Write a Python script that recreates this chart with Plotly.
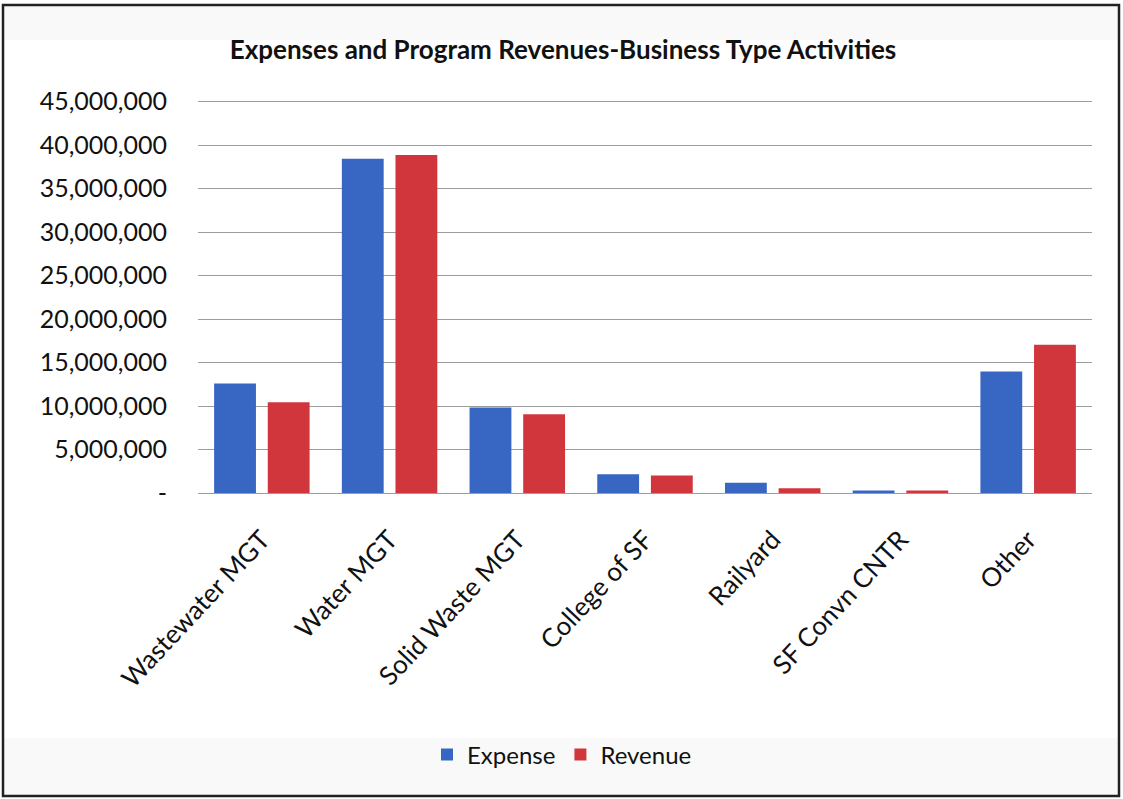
import plotly.graph_objects as go

# Business-type activities: expenses vs. program revenues (USD)
categories = ["Wastewater MGT", "Water MGT", "Solid Waste MGT", "College of SF",
              "Railyard", "SF Convn CNTR", "Other"]
expense = [12_600_000, 38_450_000, 9_830_000, 2_150_000, 1_190_000, 300_000, 13_970_000]
revenue = [10_450_000, 38_870_000, 9_070_000, 2_000_000, 540_000, 300_000, 17_050_000]

y_ticks = [0, 5_000_000, 10_000_000, 15_000_000, 20_000_000, 25_000_000,
           30_000_000, 35_000_000, 40_000_000, 45_000_000]
y_tick_labels = ["-"] + [f"{v:,}" for v in y_ticks[1:]]
y_max = 45_200_000

W, H = 1123, 799
ML, MR, MT, MB = 198, 31, 100, 306
PW, PH = W - ML - MR, H - MT - MB

def px(x):
    return (x - ML) / PW

def py(y):
    return 1 - (y - MT) / PH

FONT = "Lato"
BLUE = "#3767c2"
RED = "#d2363d"

fig = go.Figure()
fig.add_trace(go.Bar(name="Expense", x=categories, y=expense, marker_color=BLUE,
                     marker_line_width=0))
fig.add_trace(go.Bar(name="Revenue", x=categories, y=revenue, marker_color=RED,
                     marker_line_width=0))

shapes = [
    # faint bands at top and bottom of the chart frame
    dict(type="rect", xref="paper", yref="paper", x0=px(4), x1=px(1119), y0=py(5), y1=py(40),
         fillcolor="#f9f9f9", line_width=0, layer="below"),
    dict(type="rect", xref="paper", yref="paper", x0=px(4), x1=px(1119), y0=py(738), y1=py(795),
         fillcolor="#f9f9f9", line_width=0, layer="below"),
    # outer frame
    dict(type="rect", xref="paper", yref="paper", x0=px(3), x1=px(1119), y0=py(5), y1=py(796),
         line=dict(color="#222222", width=2.5), fillcolor="rgba(0,0,0,0)"),
]

fig.update_layout(
    width=W, height=H,
    margin=dict(l=ML, r=MR, t=MT, b=MB, pad=0),
    paper_bgcolor="white", plot_bgcolor="white",
    font=dict(family=FONT, color="#111111", size=24),
    title=dict(text="<b>Expenses and Program Revenues-Business Type Activities</b>",
               x=px(563), xref="paper", xanchor="center",
               y=1 - 50 / H, yref="container", yanchor="middle",
               font=dict(family=FONT, size=26, color="#111111")),
    barmode="group", bargap=0.16, bargroupgap=0.22,
    showlegend=True,
    legend=dict(orientation="h", x=px(562), xanchor="center", y=py(755), yanchor="middle",
                font=dict(family=FONT, size=24, color="#111111"),
                itemwidth=30, tracegroupgap=0, bgcolor="rgba(0,0,0,0)"),
    shapes=shapes,
)

fig.update_yaxes(range=[0, y_max], tickvals=y_ticks, ticktext=y_tick_labels,
                 showgrid=True, gridcolor="#9c9c9c", gridwidth=1, zeroline=False,
                 showline=False, ticks="", ticklabelstandoff=30,
                 tickfont=dict(family=FONT, size=25, color="#111111"))
fig.update_xaxes(tickangle=-47, showgrid=False, showline=True, linecolor="#9c9c9c",
                 linewidth=1, ticks="", ticklabelstandoff=20,
                 tickfont=dict(family=FONT, size=26, color="#111111"))

fig.write_html("out.html")
